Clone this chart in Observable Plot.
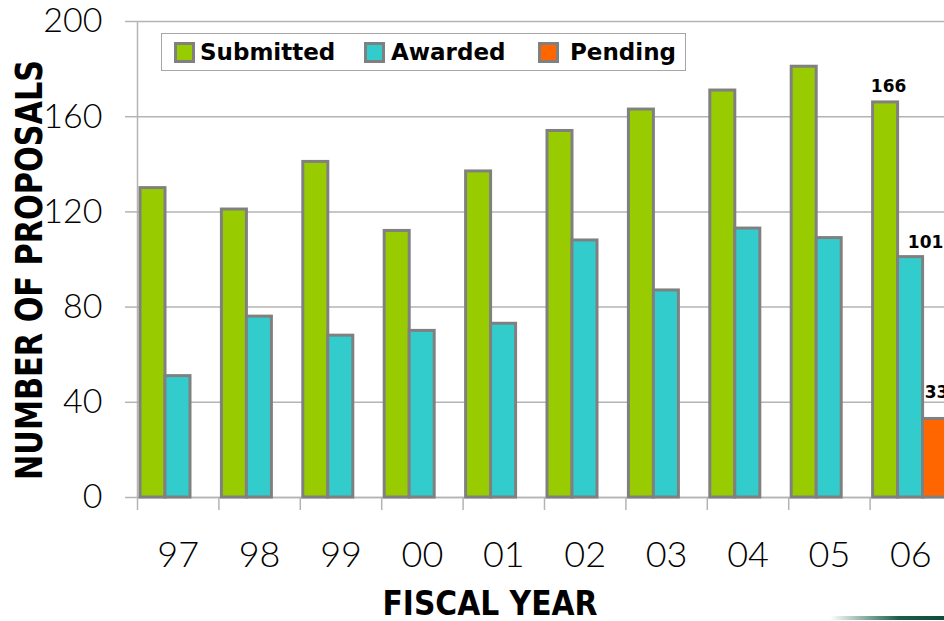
<!DOCTYPE html>
<html>
<head>
<meta charset="utf-8">
<script src="https://cdn.jsdelivr.net/npm/d3@7"></script>
<script src="https://cdn.jsdelivr.net/npm/@observablehq/plot@0.6"></script>
<style>
  html, body { margin: 0; padding: 0; background: #fff; overflow: hidden; }
  #wrap { position: relative; width: 944px; height: 621px; overflow: hidden; background: #fff; }
  #wrap svg { max-width: none !important; }
  #legend { position: absolute; left: 161px; top: 33px; width: 523px; height: 36px;
            border: 1px solid #a6a6a6; background: #fff; box-sizing: content-box; }
  .sw { position: absolute; top: 8px; width: 15px; height: 15px; border: 3px solid #808080; }
  .lt { position: absolute; top: 4px; font: bold 23px "DejaVu Sans", sans-serif; color: #000; line-height: 28px; white-space: nowrap; }
  #swoosh { position: absolute; left: 830px; top: 616px; width: 114px; height: 4px;
            background: linear-gradient(to right, rgba(20,90,70,0), #1b5e4c 60%, #0f4a3b); border-radius: 2px 0 0 2px; }
</style>
</head>
<body>
<div id="wrap"></div>
<script>
// ---- data ----
const years = ["97", "98", "99", "00", "01", "02", "03", "04", "05", "06"];
const series = ["Submitted", "Awarded", "Pending"];
const submitted = [130, 121, 141, 112, 137, 154, 163, 171, 181, 166];
const awarded = [51, 76, 68, 70, 73, 108, 87, 113, 109, 101];
const pending = [null, null, null, null, null, null, null, null, null, 33];
const yTicks = [0, 40, 80, 120, 160, 200];
const colors = ["#99cc00", "#33cccc", "#ff6600"];
const labelledYear = "06";
const yTitle = "NUMBER OF PROPOSALS";
const xTitle = "FISCAL YEAR";

const rows = [];
years.forEach((yr, i) => {
  rows.push({year: yr, series: "Submitted", value: submitted[i]});
  rows.push({year: yr, series: "Awarded", value: awarded[i]});
  if (pending[i] != null) rows.push({year: yr, series: "Pending", value: pending[i]});
});

// ---- layout ----
const W = 951, H = 621, ML = 137, MT = 21, MB = 124;
const bw = (W - ML) / years.length;
const slot = 25, off = 3;
const insets = k => ({insetLeft: off + k * slot, insetRight: bw - off - (k + 1) * slot});
const slotCenter = k => off + k * slot + slot / 2 - bw / 2;
const gray = "#b4b4b4";
const lblFont = {fontWeight: "bold", fontSize: 17, fontFamily: "DejaVu Sans, sans-serif", fill: "#000"};

const labelRow = s => rows.filter(d => d.year === labelledYear && d.series === s);

const plot = Plot.plot({
  width: W,
  height: H,
  marginLeft: ML,
  marginRight: 0,
  marginTop: MT,
  marginBottom: MB,
  style: {fontFamily: "Lato, 'Open Sans', sans-serif", background: "white", overflow: "visible", color: "#000", maxWidth: "none"},
  x: {domain: years, padding: 0, round: false, label: null},
  y: {domain: [0, 200], label: null},
  color: {domain: series, range: colors},
  marks: [
    Plot.gridY(yTicks, {stroke: gray, strokeOpacity: 1, strokeWidth: 1.5}),
    Plot.ruleY([0], {stroke: gray, strokeWidth: 1.5}),
    Plot.ruleX([years[0]], {y1: 0, y2: 200, dx: -bw / 2, stroke: gray, strokeWidth: 1.5}),
    Plot.axisX({tickSize: 13, tickFormat: () => "", dx: -bw / 2, stroke: gray, strokeWidth: 1.5}),
    Plot.axisX({tickSize: 0, tickPadding: 44, fontSize: 36, fontWeight: 300, fill: "#000"}),
    Plot.axisY(yTicks, {tickSize: 12, tickPadding: 23, fontSize: 34, fontWeight: 300, stroke: gray, strokeWidth: 1.5, fill: "#000"}),
    ...series.map((s, k) =>
      Plot.barY(rows.filter(d => d.series === s), {
        x: "year", y: "value", fill: "series", stroke: "#808080", strokeWidth: 3, ...insets(k)
      })
    ),
    Plot.text(labelRow("Submitted"), {x: "year", y: "value", text: d => String(d.value), lineAnchor: "bottom", dy: -10, dx: slotCenter(0) + 3, ...lblFont}),
    Plot.text(labelRow("Awarded"), {x: "year", y: "value", text: d => String(d.value), lineAnchor: "bottom", dy: -9, dx: slotCenter(1) + 15, ...lblFont}),
    Plot.text(labelRow("Pending"), {x: "year", y: "value", text: d => String(d.value), lineAnchor: "bottom", dy: -21, dx: slotCenter(2) + 1, ...lblFont})
  ]
});

const svg = d3.select(plot);
svg.append("text")
  .attr("transform", "translate(42,270) rotate(-90)")
  .attr("text-anchor", "middle")
  .attr("font-family", "'DejaVu Sans Condensed', 'DejaVu Sans', sans-serif")
  .attr("font-weight", "bold")
  .attr("font-size", 38)
  .attr("textLength", 420)
  .attr("lengthAdjust", "spacingAndGlyphs")
  .attr("fill", "#000")
  .text(yTitle);
svg.append("text")
  .attr("x", 490)
  .attr("y", 615)
  .attr("text-anchor", "middle")
  .attr("font-family", "'DejaVu Sans Condensed', 'DejaVu Sans', sans-serif")
  .attr("font-weight", "bold")
  .attr("font-size", 34)
  .attr("textLength", 215)
  .attr("lengthAdjust", "spacingAndGlyphs")
  .attr("fill", "#000")
  .text(xTitle);

const wrap = document.getElementById("wrap");
wrap.appendChild(plot);

// legend (HTML overlay inside the plot area)
const legend = document.createElement("div");
legend.id = "legend";
const swLeft = [12, 202, 376];
const txLeft = [38, 229, 408];
series.forEach((s, k) => {
  const sw = document.createElement("div");
  sw.className = "sw";
  sw.style.left = swLeft[k] + "px";
  sw.style.background = colors[k];
  const t = document.createElement("div");
  t.className = "lt";
  t.style.left = txLeft[k] + "px";
  t.textContent = s;
  legend.appendChild(sw);
  legend.appendChild(t);
});
wrap.appendChild(legend);

const sw = document.createElement("div");
sw.id = "swoosh";
wrap.appendChild(sw);
</script>
</body>
</html>
